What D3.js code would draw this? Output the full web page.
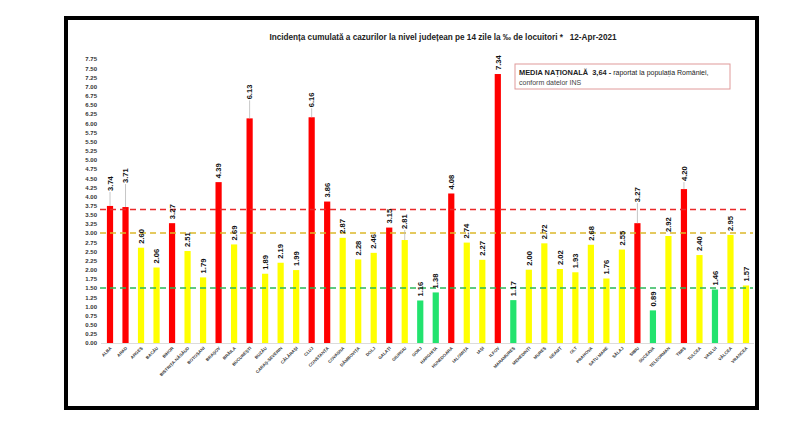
<!DOCTYPE html>
<html><head><meta charset="utf-8">
<script src="https://cdn.jsdelivr.net/npm/d3@7"></script>
<style>
html,body{margin:0;padding:0;background:#fff;}
svg{display:block;font-family:"Liberation Sans",Arial,sans-serif;}
</style></head>
<body>
<svg id="c" width="800" height="422"></svg>
<script>
const counties = ["ALBA","ARAD","ARGEȘ","BACĂU","BIHOR","BISTRIȚA-NĂSĂUD","BOTOȘANI","BRAȘOV","BRĂILA","BUCUREȘTI","BUZĂU","CARAȘ-SEVERIN","CĂLĂRAȘI","CLUJ","CONSTANȚA","COVASNA","DÂMBOVIȚA","DOLJ","GALAȚI","GIURGIU","GORJ","HARGHITA","HUNEDOARA","IALOMIȚA","IAȘI","ILFOV","MARAMUREȘ","MEHEDINȚI","MUREȘ","NEAMȚ","OLT","PRAHOVA","SATU MARE","SĂLAJ","SIBIU","SUCEAVA","TELEORMAN","TIMIȘ","TULCEA","VASLUI","VÂLCEA","VRANCEA"];
const incidence = [3.74,3.71,2.60,2.06,3.27,2.51,1.79,4.39,2.69,6.13,1.89,2.19,1.99,6.16,3.86,2.87,2.28,2.46,3.15,2.81,1.16,1.38,4.08,2.74,2.27,7.34,1.17,2.00,2.72,2.02,1.93,2.68,1.76,2.55,3.27,0.89,2.92,4.20,2.40,1.46,2.95,1.57];
const yTicks = d3.range(0, 7.76, 0.25);
const nationalMean = 3.64;
const upperThreshold = 3.00;
const lowerThreshold = 1.50;
const titleText = "Incidența cumulată a cazurilor la nivel județean pe 14 zile la ‰ de locuitori *\u00a0\u00a0\u00a012-Apr-2021";
// labels pulled further up with a leader line (pixels)
const labelLift = {"ALBA":15,"ARAD":24,"BUCUREȘTI":19,"CLUJ":10,"GIURGIU":11,"SIBIU":21,"TIMIȘ":8};

const svg = d3.select("#c");
const x = d3.scaleBand().domain(counties).range([102.25, 753.75]).paddingInner(0.6).paddingOuter(0.3);
const y = d3.scaleLinear().domain([0, 7.75]).range([343, 59]);
const color = v => v > upperThreshold ? "#ff0000" : (v < lowerThreshold ? "#22e36e" : "#ffff00");

// frame
svg.append("rect").attr("x",66).attr("y",18).attr("width",691).attr("height",390)
  .attr("fill","#fff").attr("stroke","#000").attr("stroke-width",4);

// title
svg.append("text").attr("x",443).attr("y",40).attr("text-anchor","middle")
  .attr("font-size",8.2).attr("font-weight","bold").attr("fill","#222").text(titleText);

// y axis
const yAxis = d3.axisLeft(y).tickValues(yTicks).tickFormat(d3.format(".2f")).tickSize(0).tickPadding(0);
const gy = svg.append("g").attr("transform","translate(97,0)").call(yAxis);
gy.select(".domain").remove();
gy.selectAll("text").attr("font-size",6).attr("font-weight","bold").attr("fill","#333")
  .attr("font-family","Liberation Sans, Arial, sans-serif");

// baseline
svg.append("line").attr("x1",101).attr("x2",754).attr("y1",y(0)+0.5).attr("y2",y(0)+0.5)
  .attr("stroke","#dcdcdc").attr("stroke-width",1);

// bars
svg.append("g").selectAll("rect").data(counties).join("rect")
  .attr("x", d => x(d)).attr("width", x.bandwidth())
  .attr("y", (d,i) => y(incidence[i])).attr("height", (d,i) => y(0) - y(incidence[i]))
  .attr("fill", (d,i) => color(incidence[i]));

// threshold lines
const lines = [
  {v: nationalMean, c: "#ea2a2a", x2: 747},
  {v: upperThreshold, c: "#dcb82a", x2: 753},
  {v: lowerThreshold, c: "#2cb85a", x2: 753}
];
svg.append("g").selectAll("line").data(lines).join("line")
  .attr("x1",100).attr("x2",d=>d.x2).attr("y1",d=>y(d.v)).attr("y2",d=>y(d.v))
  .attr("stroke",d=>d.c).attr("stroke-width",1.5).attr("stroke-dasharray","6,4");

// leader lines
const gl = svg.append("g");
counties.forEach((d,i) => {
  const lift = labelLift[d];
  if (lift) {
    const cx = x(d) + x.bandwidth()/2;
    gl.append("line").attr("x1",cx).attr("x2",cx)
      .attr("y1", y(incidence[i]) - lift + 1).attr("y2", y(incidence[i]))
      .attr("stroke","#b8b8b8").attr("stroke-width",0.8);
  }
});

// value labels
svg.append("g").selectAll("text").data(counties).join("text")
  .attr("transform", (d,i) => {
    const cx = x(d) + x.bandwidth()/2 + 2.7;
    const ty = y(incidence[i]) - (labelLift[d] || 4);
    return `translate(${cx},${ty}) rotate(-90)`;
  })
  .attr("font-size",7.6).attr("font-weight","bold").attr("fill","#111")
  .text((d,i) => incidence[i].toFixed(2));

// category labels
svg.append("g").selectAll("text").data(counties).join("text")
  .attr("transform", d => `translate(${x(d)+x.bandwidth()/2+2},${y(0)+5.5}) rotate(-45)`)
  .attr("text-anchor","end").attr("font-size",4.3).attr("font-weight","bold").attr("fill","#333")
  .text(d => d);

// annotation box
svg.append("rect").attr("x",515).attr("y",64).attr("width",215).attr("height",25)
  .attr("fill","#fff").attr("stroke","#e09a9a").attr("stroke-width",1);
const t1 = svg.append("text").attr("x",519).attr("y",75).attr("font-size",7).attr("fill","#222");
t1.append("tspan").attr("font-weight","bold").attr("font-size",7.4).text("MEDIA NAȚIONALĂ\u00a0\u00a03,64 - ");
t1.append("tspan").text("raportat la populația României,");
svg.append("text").attr("x",519).attr("y",85).attr("font-size",7).attr("fill","#444").text("conform datelor INS");
</script>
</body></html>
